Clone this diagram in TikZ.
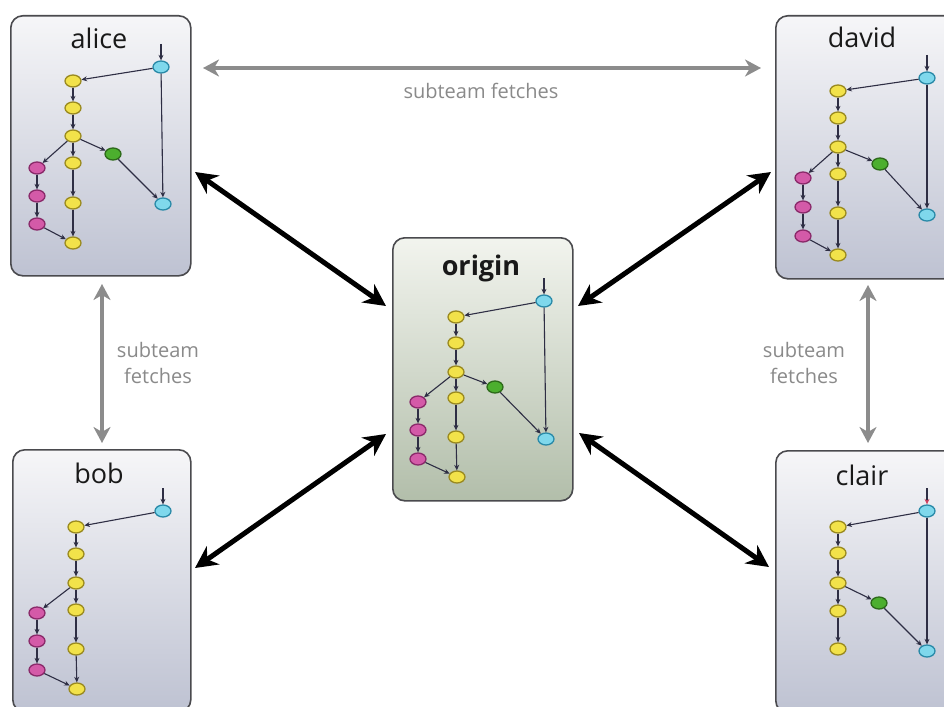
\documentclass[tikz,border=0pt]{standalone}
\usepackage{fontspec}
\setmainfont{Open Sans}
\usetikzlibrary{shapes.geometric,arrows.meta}
\definecolor{boxline}{HTML}{4A4A4E}
\definecolor{usertop}{HTML}{F6F6F8}
\definecolor{userbot}{HTML}{BEC2D2}
\definecolor{origtop}{HTML}{F2F4EE}
\definecolor{origbot}{HTML}{B2BEAA}
\definecolor{edgecol}{HTML}{2E2E44}
\definecolor{graytxt}{HTML}{8A8A8A}
\definecolor{grayarr}{HTML}{8C8C8C}
\definecolor{yfill}{HTML}{F2E24A}
\definecolor{yline}{HTML}{9A8A20}
\definecolor{cfill}{HTML}{7FD8EC}
\definecolor{cline}{HTML}{2A8AA8}
\definecolor{gfill}{HTML}{4CAF2E}
\definecolor{gline}{HTML}{2D6A1A}
\definecolor{mfill}{HTML}{D45AA8}
\definecolor{mline}{HTML}{8A2A6A}
\definecolor{redtip}{HTML}{D04060}
\newcommand\fullgraph[1]{%
  \foreach \a/\b in {cT/Y1,Y1/Y2,Y2/Y3,Y3/M1,Y3/Y4,Y3/G,Y4/Y5,Y5/Y6,M1/M2,M2/M3,M3/Y6,G/cB,cT/cB}
    \draw[edge] (#1-\a) -- (#1-\b);%
  \draw[edge] (#1-in) -- (#1-cT);}
\begin{document}
\begin{tikzpicture}[x=1pt,y=-1pt,
  userbox/.style={draw=boxline, line width=1.6pt, rounded corners=12pt, top color=usertop, bottom color=userbot, inner sep=0pt},
  origbox/.style={draw=boxline, line width=1.6pt, rounded corners=12pt, top color=origtop, bottom color=origbot, inner sep=0pt},
  ttl/.style={font=\fontsize{27}{30}\selectfont, text=black!90, inner sep=0pt},
  commit/.style={ellipse, minimum width=16pt, minimum height=12pt, inner sep=0pt, line width=1.3pt},
  cmY/.style={commit, fill=yfill, draw=yline},
  cmC/.style={commit, fill=cfill, draw=cline},
  cmG/.style={commit, fill=gfill, draw=gline},
  cmM/.style={commit, fill=mfill, draw=mline},
  edge/.style={draw=edgecol, line width=1.1pt, -{Stealth[length=5.5pt,width=5pt]}},
  big/.style={draw=black, line width=5pt, {Stealth[length=22pt,width=22pt,inset=7pt]}-{Stealth[length=22pt,width=22pt,inset=7pt]}},
  grayarrow/.style={draw=grayarr, line width=3.5pt, {Stealth[length=16pt,width=17pt,inset=5pt]}-{Stealth[length=16pt,width=17pt,inset=5pt]}},
  lbl/.style={font=\fontsize{20}{26}\selectfont, text=graytxt, inner sep=0pt, align=center}
]
\clip (0,0) rectangle (944,706);
\fill[white] (0,0) rectangle (944,706);

% boxes
\node[userbox, minimum width=180pt, minimum height=260pt, anchor=north west] (alice) at (10,15) {};
\node[userbox, minimum width=180pt, minimum height=263pt, anchor=north west] (david) at (775,15) {};
\node[origbox, minimum width=180pt, minimum height=263pt, anchor=north west] (origin) at (392,237) {};
\node[userbox, minimum width=178pt, minimum height=262pt, anchor=north west] (bob) at (12,449) {};
\node[userbox, minimum width=180pt, minimum height=262pt, anchor=north west] (clair) at (775,450) {};

% titles
\node[ttl, anchor=base] (alice-t) at (99,49) {alice};
\node[ttl, anchor=base] (david-t) at (862,48) {david};
\node[ttl, anchor=base, font=\fontsize{27}{30}\selectfont\bfseries] (origin-t) at (481,275) {origin};
\node[ttl, anchor=base] (bob-t) at (99,483) {bob};
\node[ttl, anchor=base] (clair-t) at (862,485) {clair};

% commits
\foreach \n/\x/\y/\s in {
  al-cT/161/67/cmC, al-Y1/73/81/cmY, al-Y2/73/108/cmY, al-Y3/73/136/cmY, al-G/113/154/cmG,
  al-Y4/73/163/cmY, al-M1/37/168/cmM, al-M2/37/196/cmM, al-M3/37/224/cmM, al-Y5/73/203/cmY,
  al-Y6/73/243/cmY, al-cB/163/204/cmC,
  or-cT/544/301/cmC, or-Y1/456/317/cmY, or-Y2/456/343/cmY, or-Y3/456/372/cmY, or-G/495/387/cmG,
  or-Y4/456/398/cmY, or-M1/418/402/cmM, or-M2/418/430/cmM, or-M3/418/459/cmM, or-Y5/456/437/cmY,
  or-Y6/457/477/cmY, or-cB/546/439/cmC,
  da-cT/927/78/cmC, da-Y1/838/91/cmY, da-Y2/838/118/cmY, da-Y3/838/147/cmY, da-G/880/164/cmG,
  da-Y4/838/174/cmY, da-M1/803/178/cmM, da-M2/803/207/cmM, da-M3/803/236/cmM, da-Y5/838/213/cmY,
  da-Y6/838/255/cmY, da-cB/927/215/cmC,
  bo-cT/163/511/cmC, bo-Y1/76/527/cmY, bo-Y2/76/554/cmY, bo-Y3/76/583/cmY, bo-Y4/76/610/cmY,
  bo-M1/37/613/cmM, bo-M2/37/641/cmM, bo-M3/37/670/cmM, bo-Y5/76/649/cmY, bo-Y6/77/689/cmY,
  cl-cT/927/511/cmC, cl-Y1/838/527/cmY, cl-Y2/838/553/cmY, cl-Y3/838/583/cmY, cl-G/879/603/cmG,
  cl-Y4/838/611/cmY, cl-Y5/838/649/cmY, cl-cB/927/651/cmC}
  \node[\s] (\n) at (\x,\y) {};

\coordinate (al-in) at (161,44);
\coordinate (or-in) at (544,278);
\coordinate (da-in) at (927,55);
\coordinate (bo-in) at (163,488);
\coordinate (cl-in) at (927,488);

\fullgraph{al}
\fullgraph{or}
\fullgraph{da}
\foreach \a/\b in {cT/Y1,Y1/Y2,Y2/Y3,Y3/M1,Y3/Y4,Y4/Y5,Y5/Y6,M1/M2,M2/M3,M3/Y6}
  \draw[edge] (bo-\a) -- (bo-\b);
\draw[edge] (bo-in) -- (bo-cT);
\foreach \a/\b in {cT/Y1,Y1/Y2,Y2/Y3,Y3/Y4,Y3/G,Y4/Y5,G/cB,cT/cB}
  \draw[edge] (cl-\a) -- (cl-\b);
\draw[edge, -{Stealth[length=5.5pt,width=5pt,color=redtip]}] (cl-in) -- (cl-cT);

% big black arrows
\coordinate (p-al) at (195,172);
\coordinate (p-oa) at (386,306);
\coordinate (p-da) at (771,172);
\coordinate (p-od) at (578,306);
\coordinate (p-bo) at (195,568);
\coordinate (p-ob) at (386,434);
\coordinate (p-cl) at (769,567);
\coordinate (p-oc) at (579,433);
\draw[big] (p-al) -- (p-oa);
\draw[big] (p-da) -- (p-od);
\draw[big] (p-bo) -- (p-ob);
\draw[big] (p-cl) -- (p-oc);

% gray subteam arrows
\coordinate (g-t1) at (203,68);
\coordinate (g-t2) at (761,68);
\coordinate (g-l1) at (102,284);
\coordinate (g-l2) at (102,443);
\coordinate (g-r1) at (868,285);
\coordinate (g-r2) at (868,443);
\draw[grayarrow] (g-t1) -- (g-t2);
\draw[grayarrow] (g-l1) -- (g-l2);
\draw[grayarrow] (g-r1) -- (g-r2);

\node[lbl, anchor=base] (lbl-top) at (481,99) {subteam fetches};
\node[lbl, anchor=base] (lbl-l1) at (158,357) {subteam};
\node[lbl, anchor=base] (lbl-l2) at (158,383) {fetches};
\node[lbl, anchor=base] (lbl-r1) at (804,357) {subteam};
\node[lbl, anchor=base] (lbl-r2) at (804,383) {fetches};
\end{tikzpicture}
\end{document}
